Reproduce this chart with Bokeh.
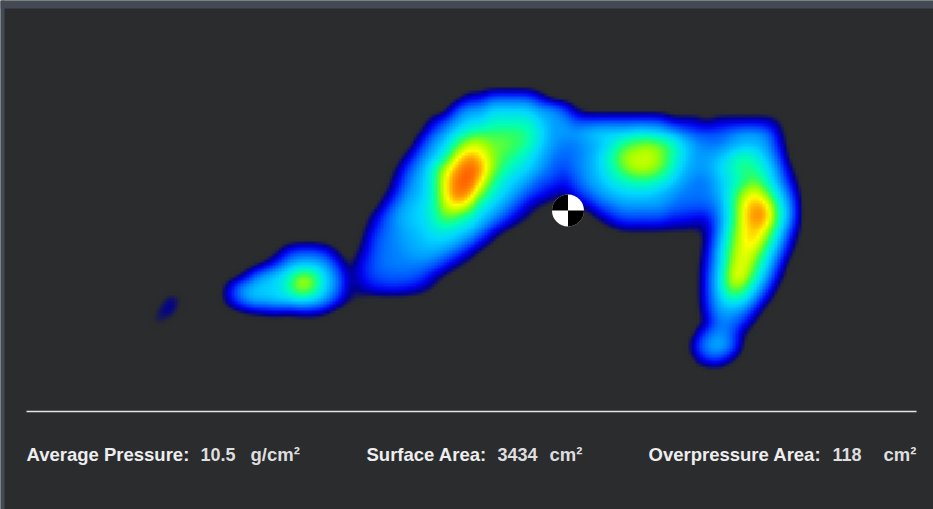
import numpy as np
from bokeh.plotting import figure
from bokeh.models import Range1d
from bokeh.core.properties import value
from bokeh.embed import file_html
from bokeh.resources import INLINE

# pressure readings: sensor row (screen y) -> segments (first column, readings)
GRID_X0, GRID_Y0, CELL = 144, 84, 12
pressure_rows = {
    96: [(27, [1, 1, 2, 2, 2, 2, 1])],
    108: [(26, [2, 3, 3, 4, 4, 4, 4, 3, 3, 2, .5])],
    120: [(24, [1, 2, 3, 4, 4, 5, 5, 5, 5, 4, 3, 3, 2, 2, 2, 2, 2, 2, 2, 2, 1, 1, 1, .5, 1, 1, 1, 1, 1, .5])],
    132: [(23, [.5, 2, 3, 4.5, 5.5, 6, 6, 6, 6, 5.5, 4.5, 3, 3, 3, 3.5, 4, 4, 4, 4.5, 4.5, 4, 3.5, 2.5, 2, 2, 2, 2.5, 3, 3, 2.5, .8])],
    144: [(23, [1.5, 3, 4, 6, 7.5, 7.5, 6.5, 6.5, 6, 5.5, 4, 3, 2.5, 2.5, 3, 3.5, 4.5, 6, 6.5, 7, 6.5, 5.5, 4, 3, 2.5, 2.5, 3, 3.5, 3.5, 3, 1.2])],
    156: [(22, [1, 2.5, 3.5, 5, 8, 9, 8.5, 7, 6, 5.5, 4.5, 3.5, 2.5, 2.2, 2.5, 3, 4, 5.5, 7, 7.5, 7.5, 7, 5.5, 4, 3, 3, 3.5, 4.5, 5.5, 5, 3.5, 1.8])],
    168: [(21, [.5, 2, 3, 5, 7.5, 9, 10, 9.3, 7, 5.5, 4.5, 4, 3, 2.2, 1.8, 2.5, 3, 4, 5, 6.5, 7.3, 7.3, 6.5, 5, 3.5, 3, 3, 4, 5, 5.8, 5.5, 4.5, 2.5, .5])],
    180: [(21, [1, 2.5, 3.5, 5, 8, 9.7, 10, 8.5, 6, 4.5, 3.8, 3, 2, 1.8, 1.3, 2, 3, 3.5, 4.5, 5, 5.5, 5.5, 5, 4, 3, 2.5, 2.5, 3.5, 4.5, 5.5, 6.5, 5, 3, 1])],
    192: [(20, [.3, 1.5, 3, 3.5, 5, 8, 9.7, 9.2, 7, 5, 4, 3, 2, 1.5, 1, .7, 1.5, 2.2, 3, 3.5, 4, 4, 4, 3.5, 3, 2.5, 2.5, 2.5, 3.3, 5, 7, 8, 6.5, 4, 1.8])],
    204: [(20, [1, 2.5, 3.5, 4, 5, 7.5, 8.5, 7.5, 5, 4, 3, 2, 1, .5, .2, 0, .5, 1, 2, 2.5, 3, 3, 3, 3, 2.5, 2.2, 2.2, 2.2, 2.8, 5, 8, 9, 8.5, 5, 2.5])],
    216: [(19, [.7, 2, 3, 3.7, 4, 5, 6.5, 6, 5, 4, 3, 2, 1, .5]),
          (38, [.7, 1.5, 2, 2, 2, 2, 1.5, 1.5, 1.2, 1.2, 2.5, 5, 8, 9.4, 9, 5.5, 2.5])],
    228: [(18, [.1, 1.2, 2.2, 2.8, 3.5, 3.8, 4.5, 5, 4.5, 4, 3, 1.5, .7, .2]),
          (39, [.3, .7, .7, .7, .7, .6, .6, .5, .7, 2.5, 5.5, 8, 8.8, 7.8, 4.5, 1.8])],
    240: [(18, [.3, 1.7, 2.4, 2.8, 3.2, 3.6, 4, 4, 3.5, 2.5, 1.5, .5]),
          (47, [.7, 3, 6, 8, 8.5, 6.5, 3.5, 1])],
    252: [(11, [.3, 1.5, 2, 2, 1.5, .5]),
          (18, [.7, 1.8, 2.5, 2.6, 3, 3.3, 3.3, 2.8, 2, 1, .3]),
          (47, [1, 3.5, 6.5, 8, 7.5, 5, 2.5, .5])],
    264: [(10, [.5, 1.5, 3, 3.5, 3.5, 3, 1.5, .2, 1.2, 2, 2.5, 2.6, 2.6, 2.6, 2.3, 1.5, .7, .2]),
          (47, [1.3, 3.5, 7, 8, 6.5, 4, 1.5])],
    276: [(8, [.4, 2, 3.2, 4, 5, 7, 6.5, 4, 2.5, .6, 1.2, 1.9, 2.1, 2.2, 2.2, 1.9, 1, .3]),
          (47, [1.5, 4, 7.5, 8, 5.5, 3, .8])],
    288: [(7, [1.2, 3, 3.7, 4, 4, 5.5, 7.5, 6.5, 4, 2.5, .6, .8, 1.3, 1.5, 1.5, 1.3, .9, .4]),
          (47, [1.5, 4, 7, 6.5, 4, 1.8, .2])],
    300: [(2, [.9, .4]),
          (7, [1.2, 2.5, 3.5, 3.5, 4, 4, 4.5, 4, 3, 1.5, .5, .3]),
          (47, [1.5, 3.5, 5, 4.5, 2.5, .7])],
    312: [(1, [.6, .9]),
          (8, [.3, .5, .7, .8, .6, .9, .9, .6]),
          (47, [1.2, 3, 3, 2.5, 1])],
    324: [(1, [.6]), (47, [.8, 2.5, 2.5, 1.5, .3])],
    336: [(46, [.6, 2.2, 3, 2.2, .5])],
    348: [(46, [1.3, 3, 3.5, 2.5, .3])],
    360: [(46, [.5, 1.6, 1.8, .6])],
}
GRID_COLS, GRID_ROWS = 56, 25

# pressure scale stops and colours
scale_values = [0.35, 0.7, 1.2, 2.0, 2.9, 4, 5.2, 6, 7, 8, 9, 10]
scale_colors = ["#2a2b2d", "#000090", "#0000f0", "#0050ff", "#0098ff", "#00d8ff",
                "#00ffb8", "#30ff60", "#a0ff00", "#ffff00", "#ff9800", "#ff5000"]

# footer
footer_labels = ["Average Pressure:", "Surface Area:", "Overpressure Area:"]
footer_label_x = [26, 366, 648]
footer_values = ["10.5", "3434", "118"]
footer_value_x = [200, 497, 832]
footer_units = ["g/cm²", "cm²", "cm²"]
footer_unit_x = [250, 549, 883]

BG = "#2a2c2e"
W, H = 933, 509


def sy(y):
    return H - y


grid = np.zeros((GRID_ROWS, GRID_COLS))
for y, segments in pressure_rows.items():
    for start, vals in segments:
        grid[(y - GRID_Y0) // CELL, start:start + len(vals)] = vals

# render-only resampling of the reading grid to screen resolution (3 px per texel)
F = 4
ys = np.arange((GRID_ROWS - 1) * F + 1) / F
xs = np.arange((GRID_COLS - 1) * F + 1) / F
tmp = np.array([np.interp(xs, np.arange(GRID_COLS), r) for r in grid])
img = np.array([np.interp(ys, np.arange(GRID_ROWS), c) for c in tmp.T]).T
kernel = np.array([1, 2, 3, 4, 3, 2, 1], dtype=float)
kernel /= kernel.sum()
img = np.apply_along_axis(lambda m: np.convolve(m, kernel, mode="same"), 0, img)
img = np.apply_along_axis(lambda m: np.convolve(m, kernel, mode="same"), 1, img)


def hex_rgb(c):
    return [int(c[i:i + 2], 16) for i in (1, 3, 5)]


rgb = np.array([hex_rgb(c) for c in scale_colors], dtype=float)
chan = [np.interp(img, scale_values, rgb[:, k]) for k in range(3)]
alpha = np.clip((img - 0.15) / 0.3, 0, 1)
rgba = np.dstack(chan + [alpha * 255]).astype(np.uint8)
packed = rgba.view(np.uint32).reshape(rgba.shape[:2])[::-1]

p = figure(width=W, height=H, output_backend="svg", toolbar_location=None,
           x_range=Range1d(0, W), y_range=Range1d(0, H),
           min_border=0, background_fill_color=BG, border_fill_color=BG)
p.axis.visible = False
p.grid.visible = False
p.outline_line_color = None

# frame strips of the screenshot
p.quad(left=[0, 0], right=[W, 4], bottom=[sy(8), 0], top=[H, H], fill_color="#434a54", line_color=None)

p.image_rgba(image=[packed], x=GRID_X0, y=sy(GRID_Y0 + CELL * (GRID_ROWS - 1)),
             dw=CELL * (GRID_COLS - 1), dh=CELL * (GRID_ROWS - 1))

# centre-of-pressure marker
cx, cy = 567.5, sy(210)
r = 16
p.circle(x=[cx], y=[cy], radius=r, radius_units="screen", fill_color="white", line_color=None)
p.wedge(x=[cx, cx], y=[cy, cy], radius=r, radius_units="screen",
        start_angle=[np.pi / 2, -np.pi / 2], end_angle=[np.pi, 0],
        fill_color="black", line_color=None)

# divider
p.line(x=[26, 916], y=[sy(411), sy(411)], line_color="#e4e4e4", line_width=1.4)

font = value("Liberation Sans")
yf = sy(454)
p.text(x=footer_label_x, y=[yf] * 3, text=footer_labels, text_font=font, text_font_size="18.5px",
       text_font_style="bold", text_color="#eeeeee", text_baseline="middle")
p.text(x=footer_value_x, y=[yf] * 3, text=footer_values, text_font=font, text_font_size="18px",
       text_font_style="bold", text_color="#dedede", text_baseline="middle")
p.text(x=footer_unit_x, y=[yf] * 3, text=footer_units, text_font=font, text_font_size="18.5px",
       text_font_style="bold", text_color="#dedede", text_baseline="middle")

open("out.html", "w").write(file_html(p, INLINE))
